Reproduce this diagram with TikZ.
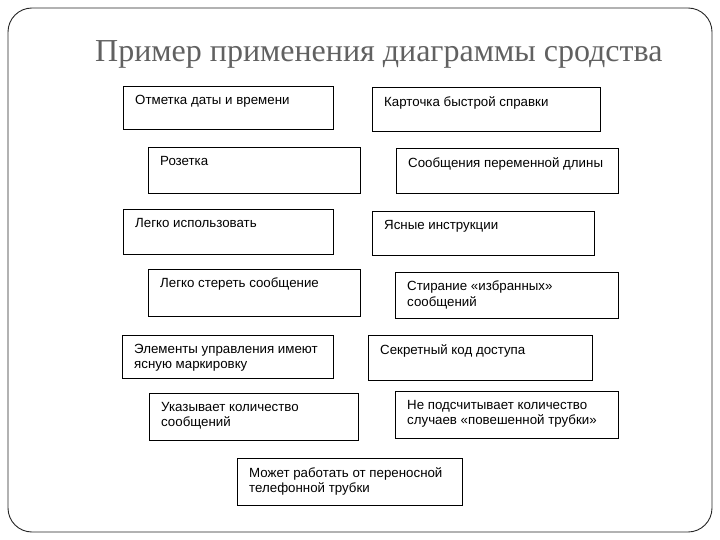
\documentclass[tikz,border=0pt]{standalone}
\usepackage{fontspec}
\setmainfont{Liberation Serif}
\newfontfamily\boxfont{Liberation Sans}
\begin{document}
\begin{tikzpicture}[x=1pt,y=-1pt,
  frame/.style={draw=black!85, line width=0.9pt, rounded corners=24pt},
  box/.style={draw=black, line width=1.4pt, anchor=north west, inner sep=0pt},
  lbl/.style={anchor=north west, inner sep=0pt, font=\boxfont\fontsize{13.3}{15.5}\selectfont, align=left},
  ttl/.style={anchor=base west, inner sep=0pt, text=black!62, font=\fontsize{32}{36}\selectfont}]
\useasboundingbox (0,0) rectangle (720,540);
\draw[frame] (8,8) rectangle (712,532);
\node[ttl] (title) at (95,62) {Пример применения диаграммы сродства};
% boxes: name left top width height text
\newcommand{\mybox}[6]{%
  \node[box, minimum width=#4, minimum height=#5] (#1) at (#2,#3) {};
  \node[lbl] (#1t) at ([shift={(12,9)}]#1.north west) {#6};}
\mybox{b1}{123}{86}{210}{43}{Отметка даты и времени}
\mybox{b2}{372}{87}{228}{44}{Карточка быстрой справки}
\mybox{b3}{148}{147}{212}{46}{Розетка}
\mybox{b4}{396}{148}{222}{45}{Сообщения переменной длины}
\mybox{b5}{123}{209}{210}{45}{Легко использовать}
\mybox{b6}{372}{211}{222}{44}{Ясные инструкции}
\mybox{b7}{148}{269}{212}{47}{Легко стереть сообщение}
\mybox{b8}{395}{272}{223}{46}{Стирание «избранных»\\сообщений}
\mybox{b9}{122}{335}{211}{43}{Элементы управления имеют\\ясную маркировку}
\mybox{b10}{368}{335}{224}{45}{Секретный код доступа}
\mybox{b11}{149}{393}{209}{47}{Указывает количество\\сообщений}
\mybox{b12}{395}{391}{223}{47}{Не подсчитывает количество\\случаев «повешенной трубки»}
\mybox{b13}{237}{458}{225}{47}{Может работать от переносной\\телефонной трубки}
\end{tikzpicture}
\end{document}
